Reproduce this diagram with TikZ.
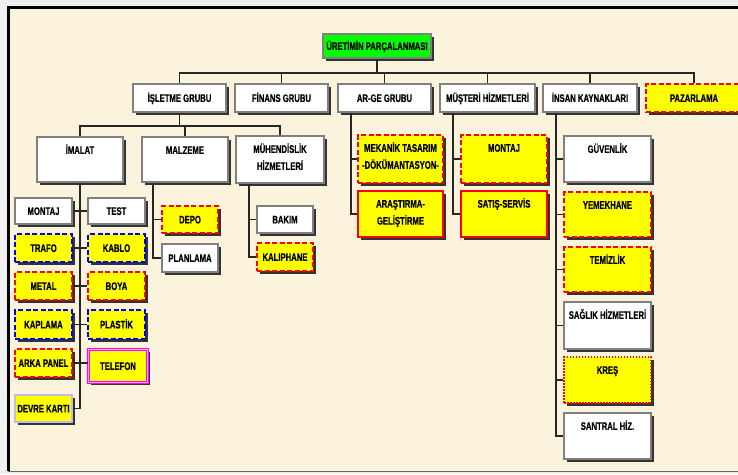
\documentclass[tikz,border=0pt]{standalone}
\usepackage{fontspec}
\newfontfamily\bfnt{Liberation Sans}[FakeStretch=0.7, FakeBold=0.5]
\usetikzlibrary{shadows,calc}
\definecolor{cream}{RGB}{252,243,221}
\definecolor{outgray}{RGB}{240,240,240}
\definecolor{bgray}{RGB}{128,128,128}
\definecolor{yel}{RGB}{255,255,0}
\definecolor{grn}{RGB}{0,255,0}
\definecolor{lav}{RGB}{190,190,235}
\definecolor{mag}{RGB}{255,0,255}
\definecolor{pinkin}{RGB}{255,170,230}
\begin{document}
\begin{tikzpicture}[x=1pt,y=-1pt,
  every node/.style={font=\bfnt\bfseries\fontsize{11}{17}\selectfont, inner sep=0pt},
  sz/.style 2 args={minimum width=#1, minimum height=#2},
  shd/.style={drop shadow={shadow xshift=2.5pt,shadow yshift=-2.5pt,fill=black!80,opacity=1}},
  bx/.style={rectangle, shd, text height=7.9pt, text depth=0pt},
  wbox/.style={bx, fill=white, draw=bgray, line width=2pt},
  rootbox/.style={bx, fill=grn, draw=bgray, line width=2pt},
  ydr/.style={bx, fill=yel, draw=red, line width=2.2pt, dash pattern=on 5pt off 2.5pt},
  ydb/.style={bx, fill=yel, draw=blue, line width=2.2pt, dash pattern=on 5pt off 2.5pt},
  ysr/.style={bx, fill=yel, draw=red, line width=2.6pt},
  ydot/.style={bx, fill=yel, draw=red, line width=2pt, dash pattern=on 1.5pt off 1.5pt},
  telbox/.style={bx, fill=yel, draw=mag, line width=1.4pt, double=pinkin, double distance=1pt},
  devbox/.style={bx, fill=yel, draw=lav, line width=2pt},
  lab/.style={anchor=north, align=center, yshift=-7.2pt},
  tl/.style={label={[lab]north:{\rule{0pt}{10.5pt}#1}}},
  con/.style={draw=black!85, line width=1.3pt}
]
\useasboundingbox (0,0) rectangle (738,474);
\clip (0,0) rectangle (738,474);
% background and frame
\fill[outgray] (0,0) rectangle (738,474);
\fill[cream] (8,7) rectangle (745,471);
\draw[black, line width=3pt] (8.5,471) -- (8.5,7.5) -- (745,7.5);
\draw[black!60, line width=1.5pt] (8,471.5) -- (745,471.5);

% root and level 1
\node[rootbox, sz={108}{24}] (root) at (377,46) {ÜRETİMİN PARÇALANMASI};
\node[wbox, sz={93}{28}] (isl) at (179.5,98) {İŞLETME GRUBU};
\node[wbox, sz={93}{28}] (fin) at (281.5,98) {FİNANS GRUBU};
\node[wbox, sz={93}{28}] (arge) at (384.5,98) {AR-GE GRUBU};
\node[wbox, sz={95}{28}] (mus) at (487.5,98) {MÜŞTERİ HİZMETLERİ};
\node[wbox, sz={94}{28}] (ins) at (590,98) {İNSAN KAYNAKLARI};
\node[ydr, sz={96}{28}] (paz) at (694,98) {PAZARLAMA};

% level 2 under İşletme
\node[wbox, sz={86}{45}, tl={İMALAT}] (ima) at (80,159.5) {};
\node[wbox, sz={86}{45}, tl={MALZEME}] (mal) at (185,159.5) {};
\node[wbox, sz={88}{47}, tl={MÜHENDİSLİK\\HİZMETLERİ}] (muh) at (280,159.5) {};

% İmalat children
\node[wbox, sz={57}{26}] (montaj) at (43.5,211) {MONTAJ};
\node[wbox, sz={57}{26}] (test) at (116.5,211) {TEST};
\node[ydb, sz={57}{28}] (trafo) at (43.5,248) {TRAFO};
\node[ydb, sz={57}{28}] (kablo) at (116.5,248) {KABLO};
\node[ydr, sz={57}{28}] (metal) at (43.5,286) {METAL};
\node[ydr, sz={57}{28}] (boya) at (116.5,286) {BOYA};
\node[ydb, sz={57}{29}] (kaplama) at (43.5,324.5) {KAPLAMA};
\node[ydb, sz={57}{29}] (plastik) at (116.5,324.5) {PLASTİK};
\node[ydr, sz={57}{28}] (arka) at (43.5,363) {ARKA PANEL};
\node[telbox, sz={59}{33}] (telefon) at (118,366) {TELEFON};
\node[devbox, sz={57}{27}] (devre) at (43.5,408.5) {DEVRE KARTI};

% Malzeme children
\node[ydr, sz={56}{27}] (depo) at (190,219.5) {DEPO};
\node[wbox, sz={56}{28}] (plan) at (190,258) {PLANLAMA};

% Mühendislik children
\node[wbox, sz={56}{27}] (bakim) at (285,219.5) {BAKIM};
\node[ydr, sz={56}{28}] (kalip) at (285,257) {KALIPHANE};

% AR-GE children
\node[ydr, sz={85}{48}, tl={MEKANİK TASARIM\\-DÖKÜMANTASYON-}] (mek) at (400.5,159) {};
\node[ysr, sz={85}{46}, tl={ARAŞTIRMA-\\GELİŞTİRME}] (aras) at (400.5,214) {};

% Müşteri children
\node[ydr, sz={86}{48}, tl={MONTAJ}] (mon2) at (504,159) {};
\node[ysr, sz={86}{46}, tl={SATIŞ-SERVİS}] (sat) at (504,214) {};

% İnsan children
\node[wbox, sz={87}{46}, tl={GÜVENLİK}] (guv) at (607.5,159) {};
\node[ydr, sz={87}{45}, tl={YEMEKHANE}] (yem) at (607.5,214.5) {};
\node[ydr, sz={87}{45}, tl={TEMİZLİK}] (tem) at (607.5,269.5) {};
\node[wbox, sz={87}{47}, tl={SAĞLIK HİZMETLERİ}] (sag) at (607.5,325.5) {};
\node[ydot, sz={87}{46}, tl={KREŞ}] (kres) at (607.5,380) {};
\node[wbox, sz={87}{46}, tl={SANTRAL HİZ.}] (san) at (607.5,436) {};

% connectors: top bus
\coordinate (bus) at ($(root.south)+(0,14)$);
\draw[con] (root.south) -- (bus);
\foreach \n in {isl,fin,arge,mus,ins,paz} \draw[con] (bus) -| (\n.north);

% İşletme bus
\coordinate (b2) at ($(isl.south)+(0,13)$);
\draw[con] (isl.south) -- (b2);
\foreach \n in {ima,mal,muh} \draw[con] (b2) -| (\n.north);

% İmalat spine and rows
\draw[con] (ima.south) |- (devre.east);
\draw[con] (montaj.east) -- (test.west);
\draw[con] (trafo.east) -- (kablo.west);
\draw[con] (metal.east) -- (boya.west);
\draw[con] (kaplama.east) -- (plastik.west);
\draw[con] (arka.east) -- (arka.east -| telefon.west);

% Malzeme
\coordinate (ms) at ($(mal.south west)+(12,0)$);
\draw[con] (ms) |- (plan.west);
\draw[con] (ms |- depo.west) -- (depo.west);

% Mühendislik
\coordinate (hs) at ($(muh.south west)+(14,0)$);
\draw[con] (hs) |- (kalip.west);
\draw[con] (hs |- bakim.west) -- (bakim.west);

% AR-GE
\coordinate (as) at ($(arge.south west)+(14,0)$);
\draw[con] (as) |- (aras.west);
\draw[con] (as |- mek.west) -- (mek.west);

% Müşteri
\coordinate (us) at ($(mus.south west)+(14,0)$);
\draw[con] (us) |- (sat.west);
\draw[con] (us |- mon2.west) -- (mon2.west);

% İnsan
\coordinate (is) at ($(ins.south west)+(14,0)$);
\draw[con] (is) |- (san.west);
\foreach \n in {guv,yem,tem,sag,kres} \draw[con] (is |- \n.west) -- (\n.west);
\end{tikzpicture}
\end{document}
